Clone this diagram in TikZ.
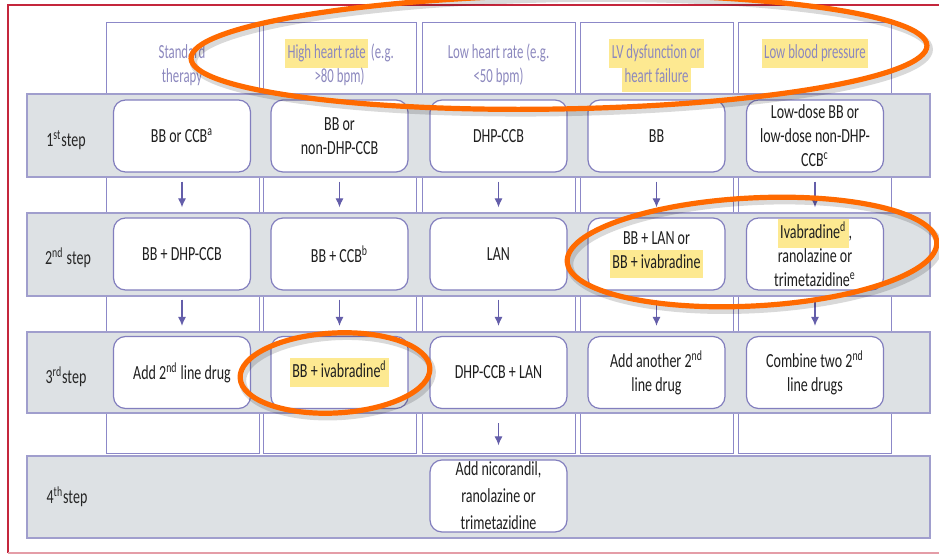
\documentclass[tikz,border=0pt]{standalone}
\usepackage{fontspec}
\setmainfont{Carlito}[FakeStretch=0.70]
\newfontfamily\headfont{Carlito}[FakeStretch=0.64]
\usetikzlibrary{arrows.meta}

\definecolor{framered}{RGB}{196,38,60}
\definecolor{colline}{RGB}{140,136,200}
\definecolor{bandfill}{RGB}{221,225,228}
\definecolor{bandline}{RGB}{160,158,205}
\definecolor{boxline}{RGB}{130,126,190}
\definecolor{arrowpurple}{RGB}{100,94,170}
\definecolor{headtext}{RGB}{140,136,190}
\definecolor{hlyellow}{RGB}{253,233,145}
\definecolor{markorange}{RGB}{255,106,0}

\newcommand{\hilite}[1]{{\setlength{\fboxsep}{1.2pt}\smash{\colorbox{hlyellow}{\strut #1}}}\vphantom{\strut}}

\tikzstyle{colbox}=[draw=colline,line width=0.5pt]
\tikzstyle{band}=[fill=bandfill,draw=bandline,line width=0.7pt]
\tikzstyle{drugbox}=[draw=boxline,fill=white,line width=0.6pt,rounded corners=6pt,minimum width=68.5pt,minimum height=36pt,align=center,inner sep=1pt,font=\fontsize{10}{12}\selectfont,text=black!88]
\tikzstyle{header}=[anchor=north,align=center,inner sep=0pt,text=headtext,font=\headfont\fontsize{10}{12}\selectfont]
\tikzstyle{steplabel}=[inner sep=0pt,text=black!85,font=\fontsize{10}{12}\selectfont]
\tikzstyle{flow}=[-{Latex[length=4.5pt,width=4pt]},draw=arrowpurple,line width=0.6pt,shorten <=4.5pt,shorten >=5pt]
\tikzstyle{orangering}=[draw=markorange,line width=2.6pt]
\tikzstyle{ringshadow}=[draw=black,opacity=0.15,line width=3.6pt,xshift=1.2pt,yshift=-1.8pt]

\begin{document}
\begin{tikzpicture}[x=0.5pt,y=-0.5pt]
    \useasboundingbox (0,0) rectangle (939,555);
    % frame
    \draw[framered,line width=1pt] (950,5) -- (8,5) -- (8,553);
    \draw[framered!45,line width=1pt] (8,553) -- (950,553);

    % columns
    \foreach \x in {106,263,422,580,738}
    \draw[colbox] (\x,23) rectangle ++(153,431);

    % step bands
    \draw[band] (27,94) rectangle (930,177);
    \draw[band] (27,213) rectangle (930,296);
    \draw[band] (27,332) rectangle (930,413);
    \draw[band] (27,456) rectangle (930,538);

    % headers
    \node[header] (stdh) at (182,41)   {\strut Standard\\therapy};
    \node[header] (hhrh) at (339.5,41) {\hilite{High heart rate} (e.g.\\>80 bpm)};
    \node[header] (lhrh) at (498.5,41) {\strut Low heart rate (e.g.\\<50 bpm)};
    \node[header] (lvdh) at (656.5,41) {\hilite{LV dysfunction or}\\\hilite{heart failure}};
    \node[header] (lbph) at (815,41)   {\hilite{Low blood pressure}};

    % step labels
    \node[steplabel] (st1) at (66,140) {1\textsuperscript{st}step};
    \node[steplabel] (st2) at (68,258) {2\textsuperscript{nd} step};
    \node[steplabel] (st3) at (66,377) {3\textsuperscript{rd}step};
    \node[steplabel] (st4) at (67,497) {4\textsuperscript{th}step};

    % 1st step
    \node[drugbox] (std1) at (182,136)   {BB or CCB\textsuperscript{a}};
    \node[drugbox] (hhr1) at (339.5,136) {BB or\\non-DHP-CCB};
    \node[drugbox] (lhr1) at (498.5,136) {DHP-CCB};
    \node[drugbox] (lvd1) at (656.5,136) {BB};
    \node[drugbox] (lbp1) at (815,136)   {Low-dose BB or\\low-dose non-DHP-\\CCB\textsuperscript{c}};

    % 2nd step
    \node[drugbox] (std2) at (182,254)   {BB + DHP-CCB};
    \node[drugbox] (hhr2) at (339.5,254) {BB + CCB\textsuperscript{b}};
    \node[drugbox] (lhr2) at (498.5,254) {LAN};
    \node[drugbox] (lvd2) at (656.5,254) {BB + LAN or\\\hilite{BB + ivabradine}};
    \node[drugbox] (lbp2) at (815,254)   {\hilite{Ivabradine\textsuperscript{d}},\\ranolazine or\\trimetazidine\textsuperscript{e}};

    % 3rd step
    \node[drugbox] (std3) at (182,372.5)   {Add 2\textsuperscript{nd} line drug};
    \node[drugbox] (hhr3) at (339.5,372.5) {\hilite{BB + ivabradine\textsuperscript{d}}};
    \node[drugbox] (lhr3) at (498.5,372.5) {DHP-CCB + LAN};
    \node[drugbox] (lvd3) at (656.5,372.5) {Add another 2\textsuperscript{nd}\\line drug};
    \node[drugbox] (lbp3) at (815,372.5)   {Combine two 2\textsuperscript{nd}\\line drugs};

    % 4th step
    \node[drugbox] (add4) at (498.5,496) {Add nicorandil,\\[1.5pt]ranolazine or\\[1.5pt]trimetazidine};

    \foreach \c in {std,hhr,lhr,lvd,lbp}{
        \draw[flow] (\c1) -- (\c2);
        \draw[flow] (\c2) -- (\c3);
    }
    \draw[flow,shorten <=7pt,shorten >=7pt] (lhr3) -- (add4);

    % orange marks
    \draw[ringshadow,rotate around={1:(559,52)}] (559,52) ellipse [x radius=368,y radius=57];
    \draw[orangering,rotate around={1:(559,52)}] (559,52) ellipse [x radius=368,y radius=57];
    \draw[ringshadow,rotate around={3:(752,252)}] (752,252) ellipse [x radius=185,y radius=54];
    \draw[orangering,rotate around={3:(752,252)}] (752,252) ellipse [x radius=185,y radius=54];
    \draw[ringshadow,rotate around={3:(335,373)}] (335,373) ellipse [x radius=95,y radius=40];
    \draw[orangering,rotate around={3:(335,373)}] (335,373) ellipse [x radius=95,y radius=40];
\end{tikzpicture}
\end{document}
